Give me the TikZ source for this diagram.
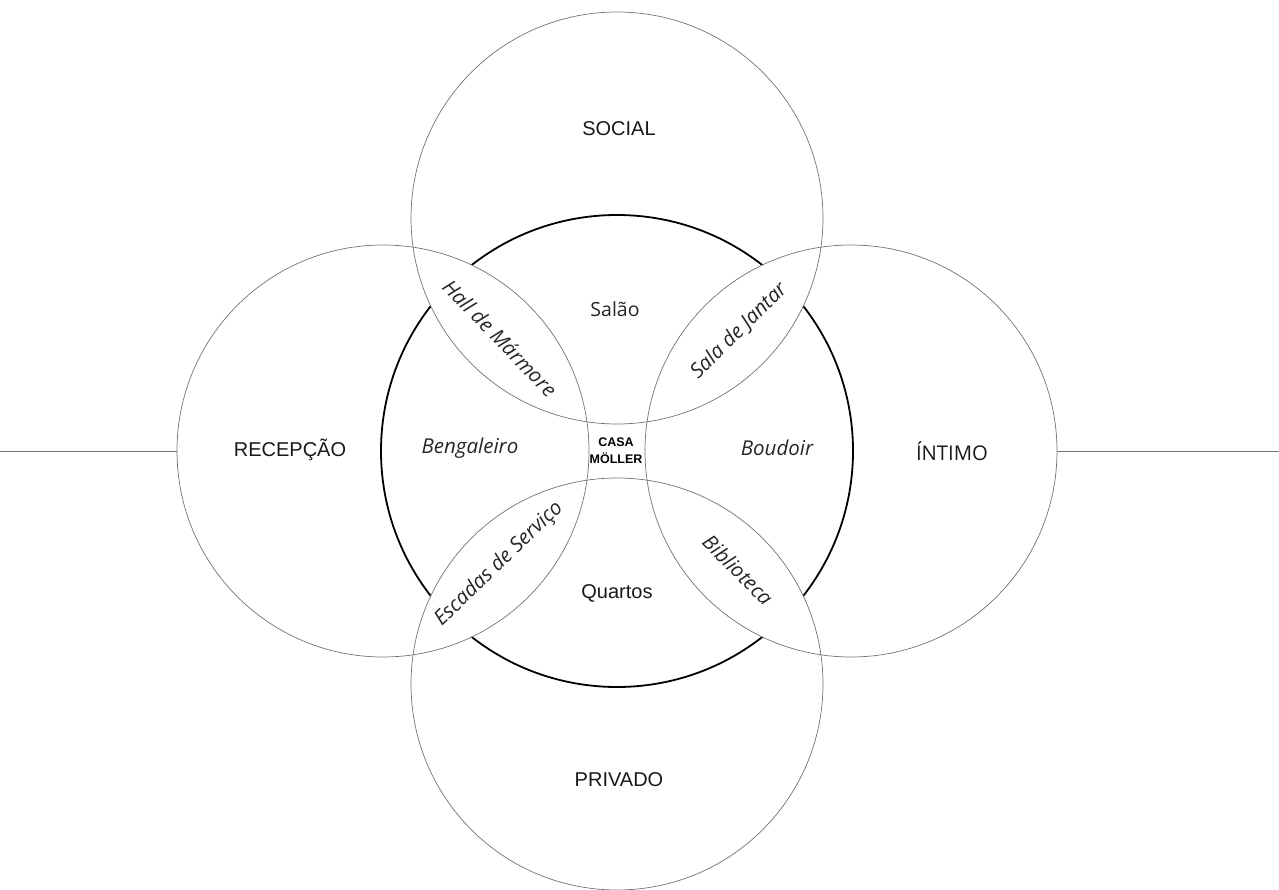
\documentclass[tikz,border=0pt]{standalone}
\usepackage{fontspec}
\setmainfont{Liberation Sans}
\newfontfamily\roomfont{Open Sans}
\begin{document}
\begin{tikzpicture}[x=1pt,y=-1pt,
  zone/.style={circle, draw=black!55, line width=0.7pt, minimum size=412pt, inner sep=0pt, outer sep=0pt},
  core/.style={circle, draw=black, line width=1.8pt, minimum size=472pt, inner sep=0pt, outer sep=0pt},
  axis/.style={draw=black!55, line width=0.7pt},
  zonelabel/.style={text=black!90, font=\fontsize{20}{24}\selectfont},
  zonelabelalt/.style={text=black!90, font=\roomfont\fontsize{20.3}{24}\selectfont},
  room/.style={text=black!85, font=\roomfont\itshape\fontsize{20.5}{24}\selectfont},
  roomup/.style={text=black!85, font=\roomfont\fontsize{19.5}{23}\selectfont},
  roomsans/.style={text=black!90, font=\fontsize{20}{24}\selectfont},
  house/.style={text=black, align=center, font=\bfseries\fontsize{12.5}{17}\selectfont}
]
\useasboundingbox (0,0) rectangle (1279,890);

% the house as a whole
\node[core] (casa) at (617,451) {};

% centres of the four zones
\coordinate (cS) at (617,218);
\coordinate (cP) at (617,684);
\coordinate (cR) at (383,451);
\coordinate (cI) at (851,451);

% lenses where two zones overlap are left blank
\foreach \a/\b in {cS/cR, cS/cI, cP/cR, cP/cI} {
  \begin{scope}
    \clip (\a) circle [radius=206pt];
    \fill[white] (\b) circle [radius=206pt];
  \end{scope}
}

% the four zones
\node[zone] (social) at (cS) {};
\node[zone] (privado) at (cP) {};
\node[zone] (recepcao) at (cR) {};
\node[zone] (intimo) at (cI) {};

% horizontal axis
\coordinate (leftend) at (0,451);
\coordinate (rightend) at (1279,451);
\draw[axis] (leftend) -- (recepcao.west);
\draw[axis] (intimo.east) -- (rightend);

% zone names
\node[zonelabel] (tsocial) at (619,129) {SOCIAL};
\node[zonelabel] (tprivado) at (619,780) {PRIVADO};
\node[zonelabel] (trecepcao) at (290,450) {RECEPÇÃO};
\node[zonelabelalt] (tintimo) at (952,451) {ÍNTIMO};

% rooms
\node[roomup] (salao) at (615,309) {Salão};
\node[roomsans] (quartos) at (617,593) {Quartos};
\node[room] (bengaleiro) at (470,448) {Bengaleiro};
\node[room] (boudoir) at (777,448) {Boudoir};
\node[house] (nome) at (616,451) {CASA\\MÖLLER};

% rooms in the overlaps
\node[room, rotate=-46] (hall) at (500,338) {Hall de Mármore};
\node[room, rotate=45] (jantar) at (739,331) {Sala de Jantar};
\node[room, rotate=44] (escadas) at (499,564) {Escadas de Serviço};
\node[room, rotate=-45] (biblioteca) at (738,570) {Biblioteca};
\end{tikzpicture}
\end{document}
